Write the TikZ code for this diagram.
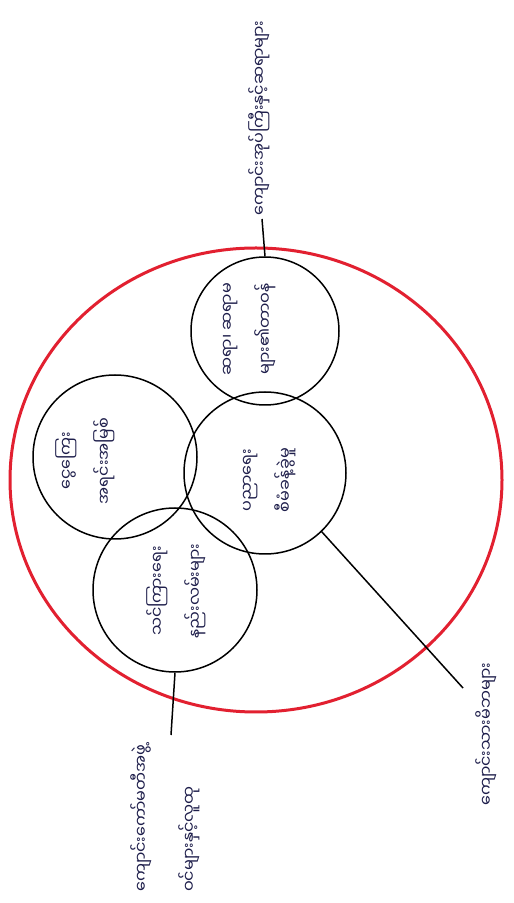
\documentclass[tikz,border=0pt]{standalone}
\usepackage{fontspec}
\usetikzlibrary{shapes.geometric}
\newfontfamily\mya[Script=Myanmar]{Noto Sans Myanmar UI}
\definecolor{redring}{RGB}{226,32,48}
\definecolor{ink}{RGB}{30,30,75}
\begin{document}
\begin{tikzpicture}[x=1pt,y=1pt,
  ring/.style={draw=black, line width=1.5pt, circle, inner sep=0pt},
  bigring/.style={draw=redring, line width=3pt, ellipse, inner sep=0pt},
  intext/.style={rotate=90, text=ink, font=\mya\fontsize{16}{38}\selectfont, align=center, inner sep=1pt},
  labtext/.style={rotate=90, text=ink, font=\mya\fontsize{16}{48}\selectfont, align=left, inner sep=1pt},
  conn/.style={draw=black, line width=1.5pt}]
\useasboundingbox (0,0) rectangle (514,903);
\fill[white] (0,0) rectangle (514,903);
% big red ring
\node[bigring, minimum width=492pt, minimum height=464pt] (big) at (256,423) {};
% inner circles
\node[ring, minimum size=148pt] (c1) at (265,572) {};
\node[ring, minimum size=162pt] (c2) at (265,430) {};
\node[ring, minimum size=164pt] (c3) at (115,446) {};
\node[ring, minimum size=164pt] (c4) at (175,313) {};
% texts inside circles
\node[intext] (t1) at (250,574) {ဆရာ၊ ဆရာမ\\များ၏တာဝန်};
\node[intext] (t2) at (270,423) {ပညာရေး\\စီမံခန့်ခွဲမှု};
\node[intext] (t3) at (85,442) {ငွေကြေး\\အရင်းအမြစ်};
\node[intext] (t4) at (176,312) {သင်ကြားရေး\\နည်းလမ်းများ};
% outside labels
\node[labtext, anchor=west] (lab1) at (259,686) {ကျောင်းအုပ်ကြီးနှင့်ဆရာများ};
\node[labtext, anchor=west] (lab2) at (486,96) {ကျောင်းသားမိဘများ};
\node[labtext, anchor=west] (lab3) at (165,10) {ကျောင်းကော်မတီအဖွဲ့\\ဝင်များနှင့်လူထု};
% connectors
\coordinate (e1) at (262,684);
\coordinate (e2) at (463,215);
\coordinate (e3) at (171,168);
\draw[conn] (c1.north) -- (e1);
\draw[conn] (c2.-46) -- (e2);
\draw[conn] (c4.south) -- (e3);
\end{tikzpicture}
\end{document}
